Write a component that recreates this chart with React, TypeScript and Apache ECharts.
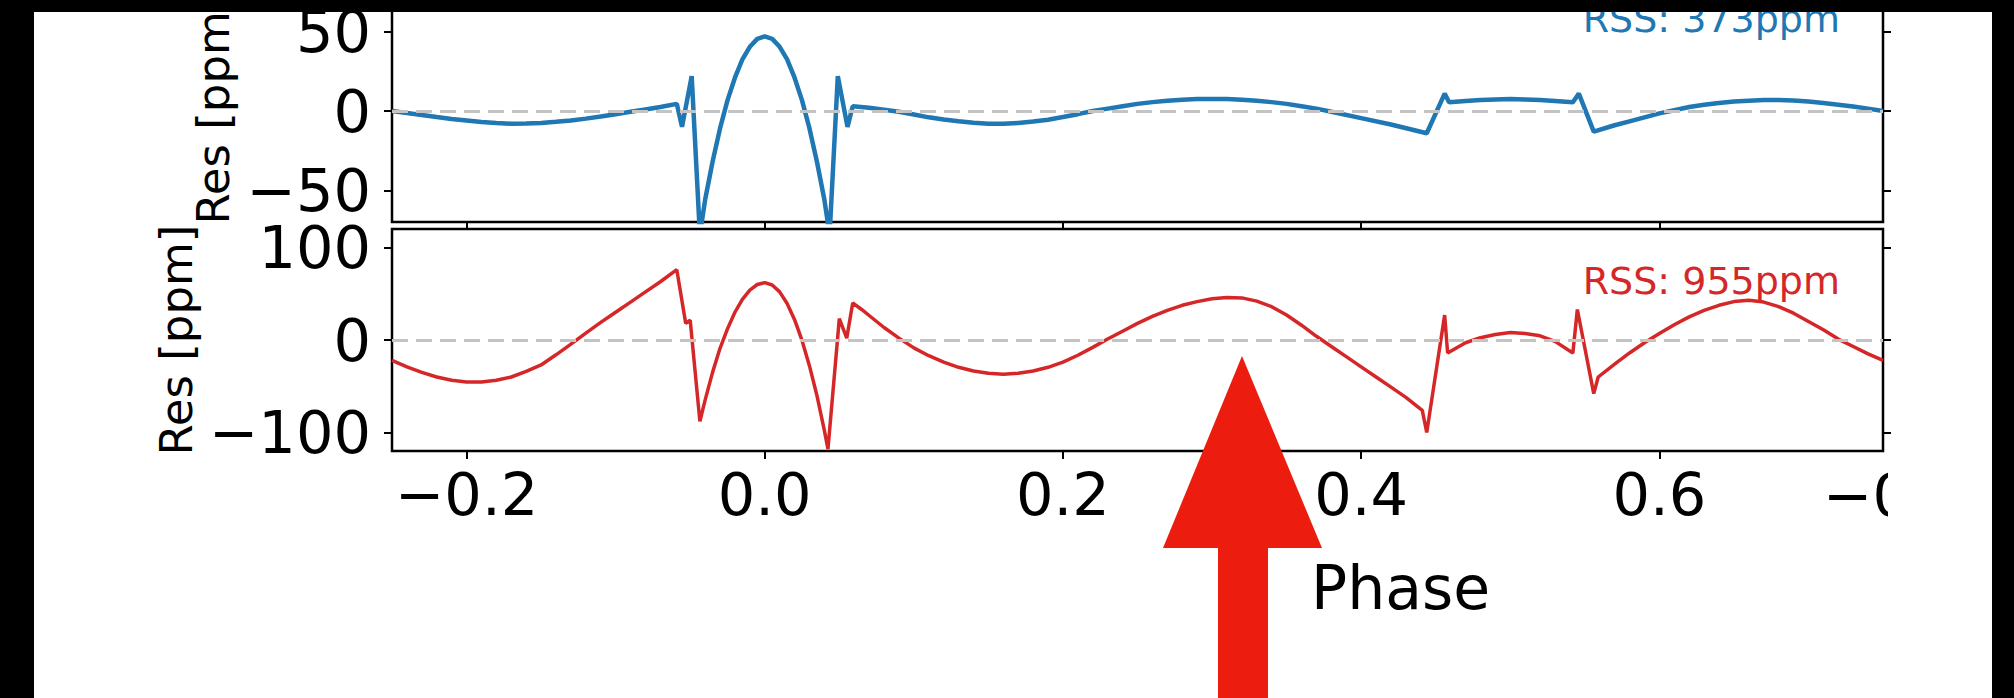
import { useEffect, useRef } from "react";
import * as echarts from "echarts";

// ---- tick values ----
const phaseTicks = [-0.2, 0, 0.2, 0.4, 0.6];
const topTicks = [-50, 0, 50];
const bottomTicks = [-100, 0, 100];

// ---- labels ----
const xAxisName = "Phase";
const yAxisName = "Res [ppm]";
const blueLabel = "RSS: 373ppm";
const redLabel = "RSS: 955ppm";
const cutLabel = "\u22120";

// ---- top panel (blue) residuals ----
const bluePhase = [
  -0.25, -0.24, -0.23, -0.22, -0.21, -0.2, -0.19, -0.18, -0.17, -0.16,
  -0.15, -0.14, -0.13, -0.12, -0.11, -0.1, -0.09, -0.08, -0.07, -0.059,
  -0.0555, -0.049, -0.0435, -0.04, -0.035, -0.03, -0.025, -0.02, -0.015, -0.01,
  -0.005, 0, 0.005, 0.01, 0.015, 0.02, 0.025, 0.03, 0.035, 0.04,
  0.0435, 0.049, 0.0555, 0.059, 0.07, 0.08, 0.09, 0.1, 0.11, 0.12,
  0.13, 0.14, 0.15, 0.16, 0.17, 0.18, 0.19, 0.2, 0.21, 0.22,
  0.23, 0.24, 0.25, 0.26, 0.27, 0.28, 0.29, 0.3, 0.31, 0.32,
  0.33, 0.34, 0.35, 0.36, 0.37, 0.38, 0.4, 0.42, 0.444, 0.456,
  0.459, 0.47, 0.48, 0.49, 0.5, 0.51, 0.52, 0.53, 0.542, 0.546,
  0.556, 0.57, 0.58, 0.59, 0.6, 0.61, 0.62, 0.63, 0.64, 0.65,
  0.66, 0.67, 0.68, 0.69, 0.7, 0.71, 0.72, 0.73, 0.74, 0.75,
];
const blueRes = [
  0, -1.3, -2.5, -3.8, -5, -6, -7, -7.6, -8, -7.9,
  -7.5, -6.8, -6, -4.8, -3.5, -2, -0.5, 1, 2.5, 4.5,
  -10, 22, -78, -56, -32, -11, 6.7, 21, 32.5, 40.5,
  45.5, 47, 45.5, 40.5, 32.5, 21, 6.7, -11, -32, -56,
  -78, 22, -10, 3, 2, 0.8, -0.5, -2.2, -4, -5.3,
  -6.5, -7.4, -8, -8, -7.5, -6.6, -5.5, -3.8, -2, 0,
  1.5, 3, 4.5, 5.6, 6.5, 7.1, 7.5, 7.6, 7.5, 7.1,
  6.5, 5.6, 4.5, 3, 1.5, -0.5, -4.5, -8.5, -14, 11,
  5.5, 6.3, 6.9, 7.3, 7.5, 7.3, 6.9, 6.3, 5.5, 11,
  -13, -9, -6.5, -4, -1.5, 0.5, 2.5, 4, 5, 6,
  6.5, 7, 7, 6.6, 6, 5, 4, 2.8, 1.5, 0,
];

// ---- bottom panel (red) residuals ----
const redPhase = [
  -0.25, -0.24, -0.23, -0.22, -0.21, -0.2, -0.19, -0.18, -0.17, -0.16,
  -0.15, -0.14, -0.13, -0.12, -0.11, -0.1, -0.09, -0.08, -0.07, -0.059,
  -0.053, -0.05, -0.0435, -0.04, -0.035, -0.03, -0.025, -0.02, -0.015, -0.01,
  -0.005, 0, 0.005, 0.01, 0.015, 0.02, 0.025, 0.03, 0.035, 0.04,
  0.0424, 0.05, 0.055, 0.059, 0.065, 0.07, 0.08, 0.09, 0.1, 0.11,
  0.12, 0.13, 0.14, 0.15, 0.16, 0.17, 0.18, 0.19, 0.2, 0.21,
  0.22, 0.23, 0.24, 0.25, 0.26, 0.27, 0.28, 0.29, 0.3, 0.31,
  0.32, 0.33, 0.34, 0.35, 0.36, 0.37, 0.38, 0.39, 0.4, 0.41,
  0.42, 0.43, 0.441, 0.444, 0.456, 0.458, 0.47, 0.48, 0.49, 0.5,
  0.51, 0.52, 0.53, 0.542, 0.545, 0.556, 0.559, 0.57, 0.58, 0.59,
  0.6, 0.61, 0.62, 0.63, 0.64, 0.65, 0.66, 0.67, 0.68, 0.69,
  0.7, 0.71, 0.72, 0.73, 0.74, 0.75,
];
const redRes = [
  -22, -29, -35, -40, -43.5, -45.5, -45.5, -43.5, -40, -34,
  -27, -16, -4.5, 7.5, 19, 30, 41, 52, 63, 76,
  18, 21.5, -88, -65, -35, -9, 12, 30, 44, 54,
  60, 62, 59.5, 52, 39.5, 22, -0.5, -28, -60, -98,
  -118, 23, 2, 40, 33, 26.5, 13.5, 2, -8.5, -17,
  -24, -29.5, -33.5, -36, -37, -36, -33.5, -29.5, -24, -16.5,
  -8, 1, 9.5, 18, 25.5, 32, 37.5, 41.5, 44.5, 46,
  45.5, 42, 36, 27, 16, 4, -7, -18, -29, -40,
  -51, -62, -76, -100, 27, -14, -3, 2.5, 6, 8,
  7, 4.5, -1.5, -14, 33, -58, -40, -26, -14, -3,
  7, 16.5, 25, 32, 37.5, 41.5, 43, 41, 36, 29,
  20, 11, 1, -7, -15, -22,
];

const FONT = "DejaVu Sans";
const BLUE = "#1f77b4";
const RED = "#d62728";

const fmtY = (v: number) => (v < 0 ? "\u2212" + Math.abs(v) : String(v));
const fmtX = (v: number) => {
  const r = Math.round(v * 10) / 10;
  return r < 0 ? "\u2212" + Math.abs(r).toFixed(1) : r.toFixed(1);
};

const tickStyle = { color: "#000", width: 2 };

function yAxes(grid: number, min: number, max: number, ticks: number[]) {
  return [
    {
      gridIndex: grid,
      type: "value",
      position: "left",
      min,
      max,
      axisLine: { show: false, onZero: false },
      axisTick: { show: true, inside: false, length: 8, lineStyle: tickStyle, customValues: ticks },
      axisLabel: {
        show: true,
        customValues: ticks,
        formatter: fmtY,
        fontSize: 59,
        fontFamily: FONT,
        color: "#000",
        margin: 21,
      },
      splitLine: { show: false },
    },
    {
      gridIndex: grid,
      type: "value",
      position: "right",
      min,
      max,
      axisLine: { show: false, onZero: false },
      axisTick: { show: true, inside: false, length: 8, lineStyle: tickStyle, customValues: ticks },
      axisLabel: { show: false },
      splitLine: { show: false },
    },
  ];
}

const zeroLine = {
  symbol: "none",
  silent: true,
  label: { show: false },
  lineStyle: { type: [16, 8], color: "#c4c4c4", width: 3 },
  data: [{ yAxis: 0 }],
};

export default function App() {
  const ref = useRef<HTMLDivElement>(null);

  useEffect(() => {
    if (!ref.current) return;
    const chart = echarts.init(ref.current, undefined, { renderer: "svg" });

    const txt = (extra: any) => ({
      fontFamily: FONT,
      ...extra,
      textAlign: extra.align,
      textVerticalAlign: extra.verticalAlign,
    });

    chart.setOption({
      animation: false,
      backgroundColor: "#fff",
      grid: [
        { left: 392, width: 1491, top: -2, height: 224, show: true, borderColor: "#000", borderWidth: 2.5, backgroundColor: "#fff" },
        { left: 392, width: 1491, top: 229, height: 222, show: true, borderColor: "#000", borderWidth: 2.5, backgroundColor: "#fff" },
      ],
      xAxis: [
        {
          gridIndex: 0,
          type: "value",
          min: -0.25,
          max: 0.75,
          axisLine: { show: false, onZero: false },
          axisTick: { show: true, length: 8, lineStyle: tickStyle, customValues: phaseTicks },
          axisLabel: { show: false },
          splitLine: { show: false },
        },
        {
          gridIndex: 1,
          type: "value",
          min: -0.25,
          max: 0.75,
          axisLine: { show: false, onZero: false },
          axisTick: { show: true, length: 8, lineStyle: tickStyle, customValues: phaseTicks },
          axisLabel: {
            show: true,
            customValues: phaseTicks,
            formatter: fmtX,
            fontSize: 59,
            fontFamily: FONT,
            color: "#000",
            margin: 14,
          },
          splitLine: { show: false },
        },
      ],
      yAxis: [...yAxes(0, -70, 70, topTicks), ...yAxes(1, -120, 120, bottomTicks)],
      series: [
        {
          type: "line",
          xAxisIndex: 0,
          yAxisIndex: 0,
          data: bluePhase.map((p, i) => [p, blueRes[i]]),
          symbol: "none",
          showSymbol: false,
          clip: true,
          lineStyle: { color: BLUE, width: 4.5 },
          markLine: zeroLine,
        },
        {
          type: "line",
          xAxisIndex: 1,
          yAxisIndex: 2,
          data: redPhase.map((p, i) => [p, redRes[i]]),
          symbol: "none",
          showSymbol: false,
          clip: true,
          lineStyle: { color: RED, width: 3.5 },
          markLine: zeroLine,
        },
      ],
      graphic: [
        {
          type: "text",
          x: 1840,
          y: 19,
          z: 20,
          style: txt({ text: blueLabel, fill: BLUE, fontSize: 38, align: "right", verticalAlign: "middle" }),
        },
        {
          type: "text",
          x: 1840,
          y: 281,
          z: 20,
          style: txt({ text: redLabel, fill: RED, fontSize: 38, align: "right", verticalAlign: "middle" }),
        },
        {
          type: "text",
          x: 213,
          y: 109,
          rotation: Math.PI / 2,
          z: 20,
          style: txt({ text: yAxisName, fill: "#000", fontSize: 45, align: "center", verticalAlign: "middle" }),
        },
        {
          type: "text",
          x: 176,
          y: 340,
          rotation: Math.PI / 2,
          z: 20,
          style: txt({ text: yAxisName, fill: "#000", fontSize: 45, align: "center", verticalAlign: "middle" }),
        },
        {
          type: "text",
          x: 1311,
          y: 588,
          z: 20,
          style: txt({ text: xAxisName, fill: "#000", fontSize: 60, align: "left", verticalAlign: "middle" }),
        },
        {
          type: "text",
          x: 1823,
          y: 495,
          z: 20,
          style: txt({ text: cutLabel, fill: "#000", fontSize: 59, align: "left", verticalAlign: "middle" }),
        },
        {
          type: "rect",
          z: 30,
          shape: { x: 1888, y: 458, width: 104, height: 80 },
          style: { fill: "#fff" },
        },
        {
          type: "polygon",
          z: 40,
          shape: {
            points: [
              [1242, 356],
              [1322, 548],
              [1268, 548],
              [1268, 700],
              [1218, 700],
              [1218, 548],
              [1163, 548],
            ],
          },
          style: { fill: "#ec1c0e" },
        },
        { type: "rect", z: 100, shape: { x: 0, y: 0, width: 2014, height: 12 }, style: { fill: "#000" } },
        { type: "rect", z: 100, shape: { x: 0, y: 0, width: 34, height: 698 }, style: { fill: "#000" } },
        { type: "rect", z: 100, shape: { x: 1992, y: 0, width: 22, height: 698 }, style: { fill: "#000" } },
      ],
    });

    return () => chart.dispose();
  }, []);

  return (
    <div
      ref={ref}
      style={{ position: "absolute", left: 0, top: 0, width: 2014, height: 698 }}
    />
  );
}
